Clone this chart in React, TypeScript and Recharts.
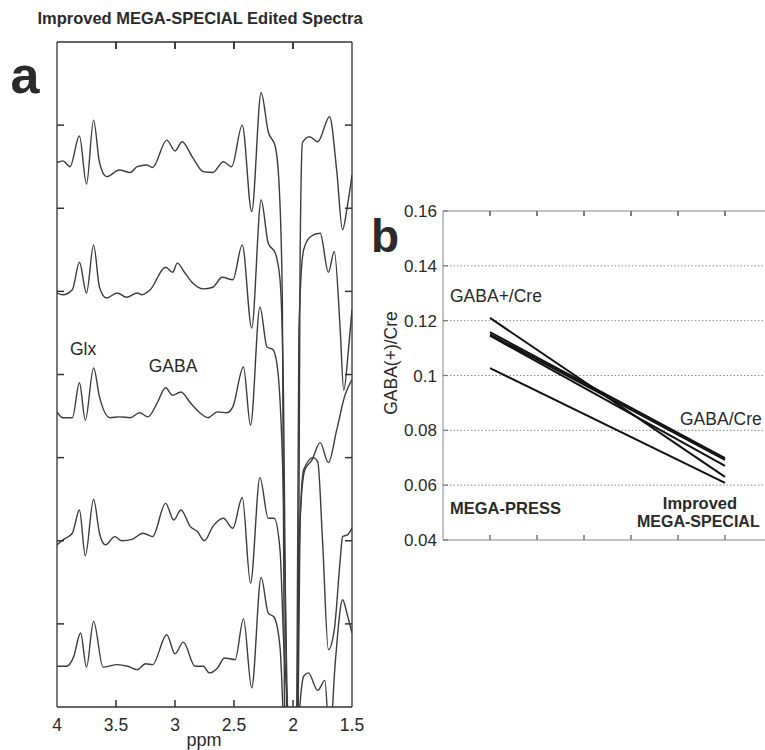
import React from "react";
import {
  LineChart,
  Line,
  XAxis,
  YAxis,
  CartesianGrid,
  ReferenceDot,
} from "recharts";

// panel a: edited spectra, [ppm, intensity] (stack units)
const spectrum1: [number, number][] = [
  [4.0, 6.55], [3.95, 6.57], [3.89, 6.5], [3.81, 6.87], [3.75, 6.29], [3.69, 7.06],
  [3.64, 6.55], [3.58, 6.38], [3.47, 6.46], [3.38, 6.43], [3.32, 6.5], [3.24, 6.52],
  [3.19, 6.49], [3.07, 6.82], [3.0, 6.69], [2.94, 6.8], [2.85, 6.61], [2.76, 6.44],
  [2.68, 6.43], [2.59, 6.56], [2.52, 6.5], [2.43, 7.0], [2.35, 5.96], [2.27, 7.39],
  [2.21, 6.92], [2.15, 6.74], [2.12, 6.34], [2.09, 4.9], [2.07, -0.64], [2.01, -2.3],
  [1.96, -0.64], [1.94, 5.38], [1.92, 6.79], [1.86, 6.86], [1.79, 6.8], [1.69, 7.1],
  [1.63, 6.46], [1.58, 5.74], [1.54, 6.02], [1.5, 6.4],
];

const spectrum2: [number, number][] = [
  [4.0, 4.98], [3.95, 4.96], [3.87, 5.02], [3.81, 5.35], [3.75, 4.98], [3.69, 5.56],
  [3.64, 5.05], [3.58, 4.92], [3.49, 4.98], [3.41, 4.93], [3.32, 4.98], [3.28, 4.96],
  [3.21, 5.02], [3.08, 5.29], [3.02, 5.23], [2.98, 5.34], [2.92, 5.23], [2.85, 5.1],
  [2.76, 5.03], [2.68, 5.05], [2.6, 5.17], [2.51, 5.14], [2.43, 5.56], [2.35, 4.56],
  [2.27, 6.1], [2.21, 5.58], [2.15, 5.46], [2.11, 5.14], [2.08, 3.69], [2.05, -0.64],
  [2.0, -2.3], [1.97, -0.64], [1.95, 4.54], [1.91, 5.5], [1.85, 5.66], [1.77, 5.7],
  [1.7, 5.23], [1.65, 5.48], [1.6, 4.54], [1.57, 3.81], [1.53, 4.3], [1.5, 4.78],
];

const spectrum3: [number, number][] = [
  [4.0, 3.55], [3.95, 3.48], [3.87, 3.48], [3.81, 3.9], [3.76, 3.45], [3.69, 4.08],
  [3.64, 3.73], [3.55, 3.48], [3.47, 3.49], [3.38, 3.48], [3.3, 3.54], [3.23, 3.49],
  [3.15, 3.66], [3.08, 3.84], [3.02, 3.75], [2.95, 3.79], [2.87, 3.66], [2.79, 3.54],
  [2.72, 3.48], [2.64, 3.55], [2.56, 3.54], [2.51, 3.61], [2.42, 4.09], [2.36, 3.39],
  [2.28, 4.81], [2.22, 4.33], [2.17, 4.3], [2.13, 4.06], [2.08, 2.49], [2.04, -0.64],
  [2.0, -2.3], [1.96, -0.64], [1.94, 2.25], [1.9, 2.85], [1.84, 2.97], [1.77, 3.18],
  [1.7, 2.94], [1.63, 3.33], [1.56, 3.75], [1.5, 3.94],
];

const spectrum4: [number, number][] = [
  [4.0, 1.95], [3.95, 2.01], [3.87, 2.09], [3.81, 2.37], [3.76, 1.82], [3.69, 2.5],
  [3.64, 2.09], [3.59, 1.95], [3.51, 2.05], [3.45, 2.0], [3.36, 2.02], [3.27, 2.09],
  [3.19, 2.05], [3.08, 2.45], [3.01, 2.25], [2.95, 2.37], [2.87, 2.17], [2.81, 2.11],
  [2.75, 2.0], [2.68, 2.17], [2.59, 2.27], [2.51, 2.15], [2.43, 2.52], [2.36, 1.49],
  [2.28, 2.76], [2.21, 2.27], [2.16, 2.27], [2.11, 1.89], [2.08, 0.81], [2.03, -0.64],
  [2.01, -2.3], [1.97, -0.64], [1.95, 1.77], [1.91, 2.85], [1.83, 3.0], [1.79, 2.95],
  [1.75, 2.01], [1.7, 0.69], [1.65, 0.93], [1.6, 1.77], [1.58, 2.05], [1.54, 2.07],
  [1.5, 2.15],
];

const spectrum5: [number, number][] = [
  [4.0, 0.49], [3.92, 0.49], [3.86, 0.6], [3.8, 0.89], [3.75, 0.48], [3.69, 1.03],
  [3.61, 0.48], [3.49, 0.51], [3.4, 0.49], [3.32, 0.45], [3.25, 0.52], [3.19, 0.51],
  [3.07, 0.87], [3.0, 0.64], [2.93, 0.78], [2.83, 0.49], [2.76, 0.49], [2.71, 0.41],
  [2.64, 0.47], [2.58, 0.59], [2.49, 0.57], [2.42, 1.06], [2.35, 0.23], [2.27, 1.56],
  [2.21, 1.13], [2.16, 1.08], [2.11, 0.72], [2.07, -0.64], [2.02, -2.3], [1.97, -0.64],
  [1.93, 0.2], [1.91, 0.37], [1.87, 0.41], [1.79, 0.2], [1.73, 0.32], [1.69, -0.4],
  [1.64, 0.57], [1.58, 1.29], [1.54, 1.11], [1.5, 0.89],
];

const spectra = [spectrum1, spectrum2, spectrum3, spectrum4, spectrum5];
const ppmTicks = [4, 3.5, 3, 2.5, 2, 1.5];
const innerPpmTicks = [3.5, 3, 2.5, 2];
const stackTicks = [1, 2, 3, 4, 5, 6, 7];

// panel b: ratio per subject, MEGA-PRESS -> Improved MEGA-SPECIAL
const megaPress = [0.121, 0.1158, 0.115, 0.1145, 0.1027];
const megaSpecial = [0.063, 0.0699, 0.0692, 0.067, 0.0608];
const ratioTicks = [0.04, 0.06, 0.08, 0.1, 0.12, 0.14, 0.16];
const slotTicks = [1, 2, 3, 4, 5, 6];

const FONT = "'Liberation Sans', Arial, Helvetica, sans-serif";
const INK = "#2a2a2a";

// inward tick mark drawn by hand; dx/dy point into the plot
const makeTick = (dx: number, dy: number, color: string, len: number) =>
  function Tick(props: any) {
    const x = props.cx ?? props.x;
    const y = props.cy ?? props.y;
    return (
      <path
        d={`M${x},${y}L${x + dx * len},${y + dy * len}`}
        stroke={color}
        strokeWidth={1.5}
        fill="none"
      />
    );
  };

const downTickA = makeTick(0, 1, "#333", 7);
const upTickA = makeTick(0, -1, "#333", 7);
const leftTickA = makeTick(1, 0, "#333", 7);
const rightTickA = makeTick(-1, 0, "#333", 7);
const downTickB = makeTick(0, 1, "#777", 5);
const upTickB = makeTick(0, -1, "#777", 5);

function PpmLabel(props: any) {
  const { x, y, payload } = props;
  return (
    <text
      x={x}
      y={y + 24}
      textAnchor="middle"
      fontSize={17.5}
      fill={INK}
      fontFamily={FONT}
    >
      {String(payload.value)}
    </text>
  );
}

function RatioTick(props: any) {
  const { x, y, payload } = props;
  return (
    <g>
      <path d={`M${x},${y}L${x + 5},${y}`} stroke="#777" strokeWidth={1.2} fill="none" />
      <text
        x={x - 6}
        y={y + 6}
        textAnchor="end"
        fontSize={17}
        fill={INK}
        fontFamily={FONT}
      >
        {String(Number(payload.value.toFixed(2)))}
      </text>
    </g>
  );
}

function Txt({
  x,
  y,
  children,
  size = 17.5,
  bold = false,
  align = "center",
  rotate = 0,
}: {
  x: number;
  y: number;
  children: React.ReactNode;
  size?: number;
  bold?: boolean;
  align?: "center" | "left";
  rotate?: number;
}) {
  const tx = align === "center" ? "-50%" : "0";
  return (
    <div
      style={{
        position: "absolute",
        left: x,
        top: y,
        transform: `translate(${tx}, -50%) rotate(${rotate}deg)`,
        fontFamily: FONT,
        fontSize: size,
        fontWeight: bold ? 700 : 400,
        lineHeight: 1,
        whiteSpace: "nowrap",
        color: INK,
      }}
    >
      {children}
    </div>
  );
}

export default function App() {
  const spectraData = spectra.map((s) => s.map(([x, y]) => ({ x, y })));
  const ratioData = megaPress.map((p, i) => [
    { x: 1, v: p },
    { x: 6, v: megaSpecial[i] },
  ]);
  const frame = { stroke: "#333", strokeWidth: 1.3 };
  const grayAxis = { stroke: "#888" };

  return (
    <div
      style={{
        position: "absolute",
        left: 0,
        top: 0,
        width: 765,
        height: 750,
        overflow: "hidden",
        background: "#fff",
      }}
    >
      {/* panel a */}
      <div style={{ position: "absolute", left: 0, top: 0 }}>
        <LineChart
          width={380}
          height={750}
          margin={{ top: 36, left: 51, right: 22, bottom: 37 }}
        >
          <XAxis
            type="number"
            dataKey="x"
            domain={[1.5, 4]}
            allowDataOverflow
            reversed
            ticks={ppmTicks}
            interval={0}
            height={6}
            tickSize={0}
            tickMargin={0}
            tickLine={false}
            axisLine={frame}
            tick={PpmLabel}
          />
          <XAxis
            xAxisId="top"
            orientation="top"
            type="number"
            dataKey="x"
            domain={[1.5, 4]}
            allowDataOverflow
            reversed
            ticks={innerPpmTicks}
            interval={0}
            height={6}
            tickSize={0}
            tickMargin={0}
            tickLine={false}
            axisLine={frame}
            tick={downTickA}
          />
          <YAxis
            type="number"
            domain={[0, 8]}
            allowDataOverflow
            ticks={stackTicks}
            interval={0}
            width={6}
            tickSize={0}
            tickMargin={0}
            tickLine={false}
            axisLine={frame}
            tick={leftTickA}
          />
          <YAxis
            yAxisId="r"
            orientation="right"
            type="number"
            domain={[0, 8]}
            allowDataOverflow
            ticks={stackTicks}
            interval={0}
            width={6}
            tickSize={0}
            tickMargin={0}
            tickLine={false}
            axisLine={frame}
            tick={rightTickA}
          />
          {spectraData.map((d, i) => {
            // the last trace is drawn against the top/right axes (same domains)
            const alt = i === spectraData.length - 1;
            return (
              <Line
                key={i}
                data={d}
                dataKey="y"
                xAxisId={alt ? "top" : 0}
                yAxisId={alt ? "r" : 0}
                type="monotone"
                stroke="#3c3c3c"
                strokeWidth={1.4}
                dot={false}
                isAnimationActive={false}
              />
            );
          })}
          {/* inward ppm tick marks on the bottom and top edges */}
          {innerPpmTicks.map((t) => (
            <ReferenceDot
              key={`b${t}`}
              x={t}
              y={0}
              r={0}
              ifOverflow="visible"
              shape={upTickA}
            />
          ))}
          {innerPpmTicks.map((t) => (
            <ReferenceDot
              key={`t${t}`}
              x={t}
              y={8}
              r={0}
              ifOverflow="visible"
              shape={downTickA}
            />
          ))}
        </LineChart>
      </div>

      {/* panel b */}
      <div style={{ position: "absolute", left: 380, top: 190 }}>
        <LineChart
          width={400}
          height={370}
          margin={{ top: 15, left: 18, right: 8, bottom: 14 }}
        >
          <CartesianGrid
            vertical={false}
            horizontalValues={[0.06, 0.08, 0.1, 0.12, 0.14]}
            stroke="#8a8a8a"
            strokeDasharray="1.5 2"
          />
          <XAxis
            type="number"
            dataKey="x"
            domain={[0, 7]}
            allowDataOverflow
            ticks={slotTicks}
            interval={0}
            height={6}
            tickSize={0}
            tickMargin={0}
            tickLine={false}
            axisLine={grayAxis}
            tick={upTickB}
          />
          <XAxis
            xAxisId="top"
            orientation="top"
            type="number"
            dataKey="x"
            domain={[0, 7]}
            allowDataOverflow
            ticks={slotTicks}
            interval={0}
            height={6}
            tickSize={0}
            tickMargin={0}
            tickLine={false}
            axisLine={grayAxis}
            tick={downTickB}
          />
          <YAxis
            type="number"
            domain={[0.04, 0.16]}
            allowDataOverflow
            ticks={ratioTicks}
            interval={0}
            width={45}
            tickSize={0}
            tickMargin={0}
            tickLine={false}
            axisLine={grayAxis}
            tick={RatioTick}
          />
          {ratioData.map((d, i) => (
            <Line
              key={i}
              data={d}
              dataKey="v"
              xAxisId={i === 0 ? "top" : 0}
              type="linear"
              stroke="#111"
              strokeWidth={2}
              dot={false}
              isAnimationActive={false}
            />
          ))}
          {slotTicks.map((t) => (
            <ReferenceDot
              key={`t${t}`}
              x={t}
              y={0.16}
              r={0}
              ifOverflow="visible"
              shape={downTickB}
            />
          ))}
        </LineChart>
      </div>

      <Txt x={200} y={18} size={16.5} bold>
        Improved MEGA-SPECIAL Edited Spectra
      </Txt>
      <Txt x={25} y={75} size={52} bold>
        a
      </Txt>
      <Txt x={83} y={350}>Glx</Txt>
      <Txt x={173} y={367}>GABA</Txt>
      <Txt x={204} y={740} size={18}>
        ppm
      </Txt>

      <Txt x={385} y={236} size={46} bold>
        b
      </Txt>
      <Txt x={392} y={363} size={17.5} rotate={-90}>
        GABA(+)/Cre
      </Txt>
      <Txt x={450} y={297} align="left">
        GABA+/Cre
      </Txt>
      <Txt x={680} y={420} align="left">
        GABA/Cre
      </Txt>
      <Txt x={450} y={508} size={16.5} bold align="left">
        MEGA-PRESS
      </Txt>
      <Txt x={700} y={503} size={16.5} bold>
        Improved
      </Txt>
      <Txt x={637} y={522} size={16} bold align="left">
        MEGA-SPECIAL
      </Txt>
    </div>
  );
}
